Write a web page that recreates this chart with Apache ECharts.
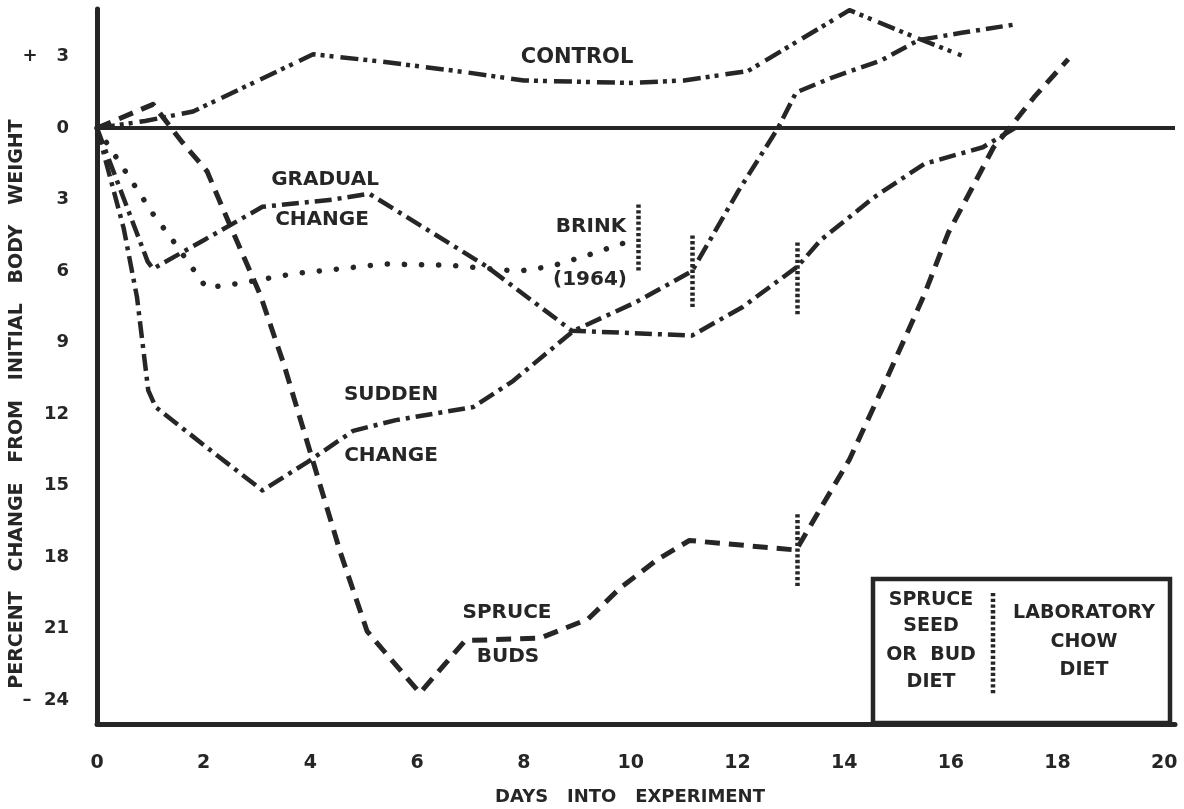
<!DOCTYPE html>
<html>
<head>
<meta charset="utf-8">
<script src="https://cdn.jsdelivr.net/npm/echarts@6/dist/echarts.min.js"></script>
<style>
  html, body { margin: 0; padding: 0; background: #ffffff; }
  #chart { width: 1184px; height: 809px; }
</style>
</head>
<body>
<div id="chart"></div>
<script>
// ---- data (x = day, y = % change) ----
const xTicks = [0, 2, 4, 6, 8, 10, 12, 14, 16, 18, 20];
const yTicks = [-24, -21, -18, -15, -12, -9, -6, -3, 0, 3];

const control = [[0,0],[0.9,0.3],[1.8,0.7],[4.05,3.1],[5.3,2.8],[6.9,2.35],[8,2.0],[10,1.9],[11,2.0],[12.2,2.4],[14.1,4.95],[15.4,3.75],[16.2,3.05]];
const brink = [[0,0],[0.5,-1.7],[1.05,-3.6],[1.45,-4.8],[2.05,-6.7],[2.7,-6.5],[3.7,-6.1],[5.4,-5.7],[6.6,-5.75],[7.9,-6.0],[8.5,-5.8],[9.1,-5.4],[9.5,-5.1],[9.9,-4.8]];
const gradual = [[0,0],[0.95,-5.6],[1.05,-5.9],[2,-4.7],[3.1,-3.3],[4.4,-3.0],[5.1,-2.75],[7.3,-5.8],[8.9,-8.5],[11.15,-8.7],[12.1,-7.5],[13.13,-5.8],[13.56,-4.7],[14.56,-2.9],[15.5,-1.5],[16.6,-0.8],[17.2,0]];
const sudden = [[0,0],[0.5,-4.2],[0.75,-7.1],[0.96,-11.0],[1.1,-11.7],[2.06,-13.4],[3.1,-15.2],[3.95,-14.0],[4.8,-12.7],[5.6,-12.25],[7.05,-11.7],[7.8,-10.6],[8.93,-8.5],[10.1,-7.3],[11.15,-6.0],[12.0,-2.7],[12.76,0],[13.1,1.5],[13.75,2.1],[14.7,2.85],[15.4,3.7],[16.2,4.0],[17.2,4.35]];
const spruce = [[0,0],[1.05,1.0],[1.6,-0.6],[2.06,-1.8],[2.44,-3.8],[3.06,-7.0],[3.5,-9.9],[4.05,-14.0],[4.56,-17.8],[5.06,-21.1],[5.4,-22.0],[6.05,-23.7],[6.9,-21.5],[8.3,-21.4],[9.2,-20.6],[9.8,-19.3],[10.5,-18.1],[11.1,-17.3],[13.1,-17.7],[14.1,-13.9],[14.7,-11.0],[15.5,-7.0],[15.95,-4.4],[16.4,-2.5],[16.8,-0.8],[17.1,0],[17.56,1.3],[18.2,2.9]];

// diet-switch markers: [day, top, bottom]
const brinkSwitch = [10.15, -3.2, -6.0];
const suddenSwitch = [11.15, -4.5, -7.6];
const gradualSwitch = [13.13, -4.8, -7.9];
const spruceSwitch = [13.13, -16.2, -19.3];

const INK = '#262626';
const FONT = '"DejaVu Sans", sans-serif';

function sw(m) {
  return [[{ coord: [m[0], m[1]] }, { coord: [m[0], m[2]] }]];
}
const dotStyle = { type: [3.3, 2.4], width: 4.5, color: INK, cap: 'butt' };
function switchLine(m) {
  return { silent: true, symbol: 'none', label: { show: false }, lineStyle: dotStyle, data: sw(m) };
}
function lineSeries(name, data, dash, cap, width, mark) {
  const s = {
    name: name, type: 'line', data: data, showSymbol: false, symbol: 'none',
    smooth: false, z: 3,
    lineStyle: { color: INK, width: width, type: dash, cap: cap, join: 'round' }
  };
  if (mark) s.markLine = mark;
  return s;
}

const chart = echarts.init(document.getElementById('chart'), null, { renderer: 'canvas' });

const option = {
  animation: false,
  backgroundColor: '#ffffff',
  grid: { left: 97, right: 9, top: 9, bottom: 85 },
  xAxis: {
    type: 'value', min: 0, max: 20.2,
    axisLine: { show: true, onZero: false, lineStyle: { color: INK, width: 5 } },
    axisTick: { show: false },
    splitLine: { show: false },
    axisLabel: {
      customValues: xTicks, margin: 30, fontSize: 19, fontWeight: 'bold',
      color: INK, fontFamily: FONT
    }
  },
  yAxis: {
    type: 'value', min: -25, max: 5,
    axisLine: { show: true, onZero: false, lineStyle: { color: INK, width: 5 } },
    axisTick: { show: false },
    splitLine: { show: false },
    axisLabel: {
      customValues: yTicks, margin: 28, fontSize: 18, fontWeight: 'bold',
      color: INK, fontFamily: FONT,
      formatter: function (v) {
        if (v === 3) return '+   3';
        if (v === -24) return '\u2013  24';
        return String(Math.abs(v));
      }
    }
  },
  series: [
    lineSeries('Control', control, [18, 5, 4, 5, 4, 7], 'butt', 4.5, {
      silent: true, symbol: 'none', label: { show: false },
      lineStyle: { type: 'solid', color: INK, width: 4 },
      data: [{ yAxis: 0 }]
    }),
    lineSeries('Brink (1964)', brink, [0.1, 17], 'round', 5.5, switchLine(brinkSwitch)),
    lineSeries('Gradual change', gradual, [17, 6, 4, 6], 'butt', 4.5, switchLine(gradualSwitch)),
    lineSeries('Sudden change', sudden, [17, 6, 4, 6], 'butt', 4.5, switchLine(suddenSwitch)),
    lineSeries('Spruce buds', spruce, [15, 9], 'butt', 5, switchLine(spruceSwitch))
  ],
  graphic: [
    { type: 'text', x: 577, y: 58, style: { text: 'CONTROL', font: 'bold 21px ' + FONT, fill: INK, align: 'center', verticalAlign: 'middle' } },
    { type: 'text', x: 325, y: 180, style: { text: 'GRADUAL', font: 'bold 20px ' + FONT, fill: INK, align: 'center', verticalAlign: 'middle' } },
    { type: 'text', x: 322, y: 220, style: { text: 'CHANGE', font: 'bold 20px ' + FONT, fill: INK, align: 'center', verticalAlign: 'middle' } },
    { type: 'text', x: 591, y: 227, style: { text: 'BRINK', font: 'bold 20px ' + FONT, fill: INK, align: 'center', verticalAlign: 'middle' } },
    { type: 'text', x: 590, y: 280, style: { text: '(1964)', font: 'bold 20px ' + FONT, fill: INK, align: 'center', verticalAlign: 'middle' } },
    { type: 'text', x: 391, y: 395, style: { text: 'SUDDEN', font: 'bold 20px ' + FONT, fill: INK, align: 'center', verticalAlign: 'middle' } },
    { type: 'text', x: 391, y: 456, style: { text: 'CHANGE', font: 'bold 20px ' + FONT, fill: INK, align: 'center', verticalAlign: 'middle' } },
    { type: 'text', x: 507, y: 613, style: { text: 'SPRUCE', font: 'bold 20px ' + FONT, fill: INK, align: 'center', verticalAlign: 'middle' } },
    { type: 'text', x: 508, y: 657, style: { text: 'BUDS', font: 'bold 20px ' + FONT, fill: INK, align: 'center', verticalAlign: 'middle' } },
    // diet key box
    { type: 'rect', shape: { x: 873, y: 579, width: 297, height: 144 }, style: { fill: 'none', stroke: INK, lineWidth: 4.5 } },
    { type: 'line', shape: { x1: 993, y1: 593, x2: 993, y2: 695 }, style: { stroke: INK, lineWidth: 4.5, lineDash: [3.3, 2.4] } },
    { type: 'text', x: 931, y: 600, style: { text: 'SPRUCE', font: 'bold 19px ' + FONT, fill: INK, align: 'center', verticalAlign: 'middle' } },
    { type: 'text', x: 931, y: 626, style: { text: 'SEED', font: 'bold 19px ' + FONT, fill: INK, align: 'center', verticalAlign: 'middle' } },
    { type: 'text', x: 931, y: 655, style: { text: 'OR  BUD', font: 'bold 19px ' + FONT, fill: INK, align: 'center', verticalAlign: 'middle' } },
    { type: 'text', x: 931, y: 682, style: { text: 'DIET', font: 'bold 19px ' + FONT, fill: INK, align: 'center', verticalAlign: 'middle' } },
    { type: 'text', x: 1084, y: 613, style: { text: 'LABORATORY', font: 'bold 19px ' + FONT, fill: INK, align: 'center', verticalAlign: 'middle' } },
    { type: 'text', x: 1084, y: 642, style: { text: 'CHOW', font: 'bold 19px ' + FONT, fill: INK, align: 'center', verticalAlign: 'middle' } },
    { type: 'text', x: 1084, y: 670, style: { text: 'DIET', font: 'bold 19px ' + FONT, fill: INK, align: 'center', verticalAlign: 'middle' } },
    // axis titles
    { type: 'text', x: 630, y: 797, style: { text: 'DAYS   INTO   EXPERIMENT', font: 'bold 18px ' + FONT, fill: INK, align: 'center', verticalAlign: 'middle' } },
    { type: 'text', x: 17, y: 404, rotation: Math.PI / 2, style: { text: 'PERCENT   CHANGE   FROM   INITIAL   BODY   WEIGHT', font: 'bold 19px ' + FONT, fill: INK, align: 'center', verticalAlign: 'middle' } }
  ]
};
chart.setOption(option);
</script>
</body>
</html>
